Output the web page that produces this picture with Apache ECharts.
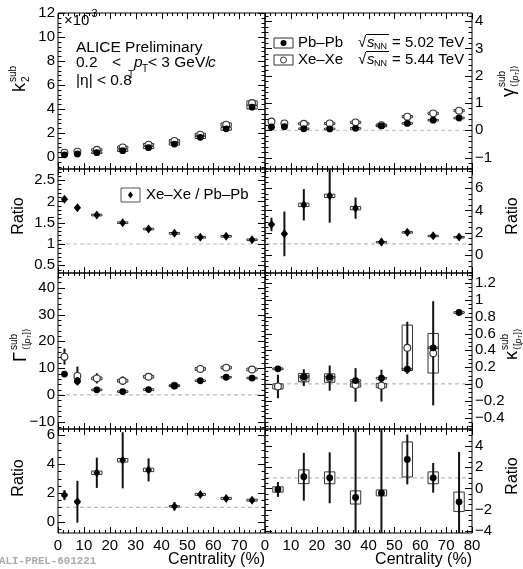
<!DOCTYPE html>
<html><head><meta charset="utf-8">
<script src="https://cdn.jsdelivr.net/npm/echarts@6/dist/echarts.min.js"></script>
<style>html,body{margin:0;padding:0;background:#fff}#c{width:523px;height:569px}</style>
</head><body><div id="c"></div>
<script>
// ================= DATA =================
const centralityA = [2.5, 7.5, 15, 25, 35, 45, 55, 65, 75];
const centralityB = [5, 15, 25, 35, 45, 55, 65, 75];

// k2^sub (x 10^-3)
const k2PbPb      = [0.18, 0.25, 0.36, 0.53, 0.78, 1.08, 1.64, 2.35, 4.15];
const k2PbPbStat  = [0.03, 0.03, 0.03, 0.04, 0.05, 0.05, 0.06, 0.08, 0.12];
const k2PbPbSys   = [0.05, 0.05, 0.06, 0.07, 0.08, 0.09, 0.10, 0.12, 0.15];
const k2XeXe      = [0.36, 0.45, 0.60, 0.80, 1.03, 1.34, 1.86, 2.70, 4.50];
const k2XeXeStat  = [0.05, 0.05, 0.05, 0.06, 0.06, 0.07, 0.08, 0.10, 0.15];
const k2XeXeSys   = [0.06, 0.07, 0.08, 0.10, 0.10, 0.11, 0.12, 0.14, 0.18];
const k2Ratio     = [2.05, 1.85, 1.68, 1.50, 1.35, 1.25, 1.16, 1.18, 1.10];
const k2RatioStat = [0.03, 0.03, 0.03, 0.03, 0.03, 0.03, 0.03, 0.03, 0.04];
const k2RatioSys  = [0.02, 0.02, 0.02, 0.02, 0.02, 0.02, 0.02, 0.02, 0.02];

// gamma^sub_<[pT]>
const gPbPb      = [0.12, 0.13, 0.055, 0.05, 0.07, 0.16, 0.25, 0.37, 0.45];
const gPbPbStat  = [0.03, 0.04, 0.04, 0.04, 0.04, 0.03, 0.03, 0.03, 0.03];
const gPbPbSys   = [0.03, 0.03, 0.03, 0.03, 0.03, 0.03, 0.03, 0.03, 0.03];
const gXeXe      = [0.32, 0.25, 0.24, 0.25, 0.29, 0.19, 0.50, 0.62, 0.72];
const gXeXeStat  = [0.05, 0.06, 0.06, 0.06, 0.06, 0.05, 0.06, 0.06, 0.06];
const gXeXeSys   = [0.04, 0.04, 0.04, 0.04, 0.04, 0.04, 0.04, 0.04, 0.04];
const gRatio     = [2.74, 1.90, 4.50, 5.30, 4.20, 1.17, 2.05, 1.72, 1.62];
const gRatioStat = [0.60, 2.00, 1.40, 2.40, 0.95, 0.30, 0.15, 0.15, 0.20];
const gRatioSys  = [0.10, 0.10, 0.15, 0.15, 0.15, 0.05, 0.05, 0.05, 0.05];

// Gamma^sub_<[pT]>
const GPbPb      = [7.8, 5.2, 1.9, 1.25, 2.0, 3.4, 5.3, 6.6, 6.3];
const GPbPbStat  = [0.6, 1.5, 0.5, 0.5, 0.5, 0.5, 0.4, 0.4, 0.5];
const GPbPbSys   = [0.3, 0.3, 0.3, 0.3, 0.3, 0.3, 0.3, 0.3, 0.3];
const GXeXe      = [14.3, 7.1, 6.2, 5.3, 6.8, 3.5, 9.7, 10.2, 9.5];
const GXeXeStat  = [3.0, 3.5, 1.9, 1.6, 1.0, 0.6, 1.0, 1.0, 1.2];
const GXeXeSys   = [0.5, 0.5, 0.5, 0.5, 0.5, 0.3, 0.5, 0.5, 0.5];
const GRatio     = [1.85, 1.39, 3.40, 4.27, 3.60, 1.07, 1.90, 1.62, 1.50];
const GRatioStat = [0.35, 1.45, 1.05, 1.95, 0.80, 0.30, 0.12, 0.15, 0.20];
const GRatioSys  = [0.10, 0.10, 0.12, 0.12, 0.12, 0.05, 0.07, 0.07, 0.07];

// kappa^sub_<[pT]>
const kPbPb      = [0.18, 0.087, 0.08, 0.04, 0.068, 0.175, 0.43, 0.85];
const kPbPbStat  = [0.015, 0.02, 0.02, 0.02, 0.02, 0.03, 0.03, 0.03];
const kPbPbSys   = [0.01, 0.01, 0.01, 0.01, 0.01, 0.01, 0.01, 0.01];
const kXeXe      = [-0.03, 0.075, 0.07, -0.012, -0.02, 0.43, 0.365, null];
const kXeXeStat  = [0.14, 0.10, 0.15, 0.20, 0.19, 0.31, 0.62, null];
const kXeXeSys   = [0.03, 0.05, 0.05, 0.025, 0.025, 0.27, 0.235, null];
const kRatio     = [-0.10, 1.10, 1.00, -0.85, -0.42, 2.73, 1.00, -1.26];
const kRatioStat = [0.70, 2.25, 2.40, 8.0, 9.0, 2.35, 1.40, 4.70];
const kRatioSys  = [0.25, 0.65, 0.56, 0.62, 0.28, 1.65, 0.56, 0.92];

// tick labels
const xTicksLeft  = [0, 10, 20, 30, 40, 50, 60, 70];
const xTicksRight = [0, 10, 20, 30, 40, 50, 60, 70, 80];
const yTicksK2     = [0, 2, 4, 6, 8, 10, 12];
const yTicksGamma  = [-1, 0, 1, 2, 3, 4];
const yTicksK2R    = [0.5, 1, 1.5, 2, 2.5];
const yTicksGammaR = [0, 2, 4, 6];
const yTicksBigG   = [-10, 0, 10, 20, 30, 40];
const yTicksKappa  = [-0.4, -0.2, 0, 0.2, 0.4, 0.6, 0.8, 1, 1.2];
const yTicksBigGR  = [0, 2, 4, 6];
const yTicksKappaR = [-4, -2, 0, 2, 4];

// ================= LAYOUT =================
const FONT = '"Liberation Sans", Arial, Helvetica, sans-serif';
const L0 = 58, L1 = 265, R1 = 472;
const panels = [
  {rect: [L0, 13, L1 - L0, 156],  y: [-1, 12],        major: yTicksK2,     minor: 0.4,  side: 'left',  ref: null},
  {rect: [L1, 13, R1 - L1, 156],  y: [-1.42, 4.3],    major: yTicksGamma,  minor: 0.2,  side: 'right', ref: 0},
  {rect: [L0, 169, L1 - L0, 104], y: [0.32, 2.76],    major: yTicksK2R,    minor: 0.1,  side: 'left',  ref: 1},
  {rect: [L1, 169, R1 - L1, 104], y: [-1.6, 7.7],     major: yTicksGammaR, minor: 0.5,  side: 'right', ref: 1},
  {rect: [L0, 273, L1 - L0, 156], y: [-12.7, 45.5],   major: yTicksBigG,   minor: 2,    side: 'left',  ref: 0},
  {rect: [L1, 273, R1 - L1, 156], y: [-0.536, 1.32],  major: yTicksKappa,  minor: 0.05, side: 'right', ref: 0},
  {rect: [L0, 429, L1 - L0, 104], y: [-0.78, 6.44],   major: yTicksBigGR,  minor: 0.5,  side: 'left',  ref: 1, xlab: xTicksLeft},
  {rect: [L1, 429, R1 - L1, 104], y: [-4.2, 5.6],     major: yTicksKappaR, minor: 0.5,  side: 'right', ref: 1, xlab: xTicksRight}
];

function minorVals(min, max, step, major) {
  const out = [];
  const k0 = Math.ceil(min / step - 1e-9), k1 = Math.floor(max / step + 1e-9);
  for (let k = k0; k <= k1; k++) {
    const v = Math.round(k * step * 1e6) / 1e6;
    if (!major.some(m => Math.abs(m - v) < 1e-9)) out.push(v);
  }
  return out;
}
function fmt(v) {
  const s = String(Math.round(v * 1e6) / 1e6);
  return v < 0 ? '\u2212' + s.slice(1) : s;
}

const grids = [], xAxes = [], yAxes = [];
const xMinor = minorVals(0, 80, 2, xTicksRight);
panels.forEach((p, gi) => {
  grids.push({left: p.rect[0], top: p.rect[1], width: p.rect[2], height: p.rect[3],
    show: true, borderColor: '#000', borderWidth: 1, backgroundColor: 'transparent', containLabel: false});
  xAxes.push({
    type: 'value', gridIndex: gi, position: 'bottom', min: 0, max: 80,
    axisLine: {show: false}, splitLine: {show: false}, axisTick: {show: false},
    axisLabel: p.xlab ? {show: true, customValues: p.xlab, margin: 5, color: '#000', fontSize: 15, fontFamily: FONT, formatter: fmt}
                      : {show: false}
  });
  ['left', 'right'].forEach(pos => {
    yAxes.push({
      type: 'value', gridIndex: gi, position: pos, min: p.y[0], max: p.y[1],
      axisLine: {show: false}, splitLine: {show: false}, axisTick: {show: false},
      axisLabel: p.side === pos ? {show: true, customValues: p.major, margin: 3, color: '#000', fontSize: 15, fontFamily: FONT, formatter: fmt}
                                : {show: false}
    });
  });
});

// ================= SERIES =================
function tickSeries(gi) {
  const p = panels[gi];
  const yMinor = minorVals(p.y[0], p.y[1], p.minor, p.major);
  return {type: 'custom', xAxisIndex: gi, yAxisIndex: 2 * gi, z: 10, clip: false, silent: true,
    data: [[0, p.y[0]]], encode: {x: 0, y: 1},
    renderItem(params, api) {
      const ch = [];
      const ln = (x1, y1, x2, y2) => ch.push({type: 'line', shape: {x1, y1, x2, y2}, style: {stroke: '#000', lineWidth: 1}});
      const c0 = api.coord([0, p.y[0]]), c1 = api.coord([80, p.y[1]]);
      const xl = c0[0], xr = c1[0], yb = c0[1], yt = c1[1];
      const xt = (v, len) => { const X = Math.round(api.coord([v, p.y[0]])[0]) + 0.5; ln(X, yb, X, yb - len); ln(X, yt, X, yt + len); };
      const yt_ = (v, len) => { const Y = Math.round(api.coord([0, v])[1]) + 0.5; ln(xl, Y, xl + len, Y); ln(xr, Y, xr - len, Y); };
      xTicksRight.forEach(v => xt(v, 6));
      xMinor.forEach(v => xt(v, 3));
      p.major.forEach(v => yt_(v, 7));
      yMinor.forEach(v => yt_(v, 3.5));
      return {type: 'group', children: ch};
    }};
}
function marker(kind, cx, cy) {
  if (kind === 'filled') return {type: 'circle', shape: {cx, cy, r: 3.4}, style: {fill: '#000'}};
  if (kind === 'open') return {type: 'circle', shape: {cx, cy, r: 3.4}, style: {fill: '#fff', stroke: '#333', lineWidth: 1.1}};
  return {type: 'polygon', shape: {points: [[cx, cy - 4.5], [cx + 3.4, cy], [cx, cy + 4.5], [cx - 3.4, cy]]}, style: {fill: '#000'}};
}
function errSeries(name, gi, xs, ys, stat, sys, kind) {
  const data = [];
  xs.forEach((x, i) => { if (ys[i] != null) data.push([x, ys[i], stat[i], sys[i]]); });
  return {
    name, type: 'custom', xAxisIndex: gi, yAxisIndex: 2 * gi, clip: true, z: 5,
    data, encode: {x: 0, y: 1},
    renderItem(params, api) {
      const x = api.value(0), y = api.value(1), s = api.value(2), sy = api.value(3);
      const hw = x < 10 && xs.length === 9 ? 1 : 2;
      const p = api.coord([x, y]);
      const lo = api.coord([x, y - s]), hi = api.coord([x, y + s]);
      const b1 = api.coord([x - hw, y + sy]), b2 = api.coord([x + hw, y - sy]);
      return {type: 'group', children: [
        {type: 'rect', shape: {x: b1[0], y: b1[1], width: b2[0] - b1[0], height: Math.max(b2[1] - b1[1], 1.5)},
         style: {fill: 'none', stroke: '#333', lineWidth: 1}},
        {type: 'line', shape: {x1: p[0], y1: hi[1], x2: p[0], y2: lo[1]}, style: {stroke: '#111', lineWidth: 2}},
        marker(kind, p[0], p[1])
      ]};
    }
  };
}
function refSeries(gi, ref) {
  return {type: 'custom', xAxisIndex: gi, yAxisIndex: 2 * gi, z: 1, silent: true, data: [[0, ref]], encode: {x: 0, y: 1},
    renderItem(params, api) {
      const a = api.coord([0, ref]), b = api.coord([80, ref]);
      return {type: 'line', shape: {x1: a[0] + 1, y1: a[1], x2: b[0] - 1, y2: b[1]},
        style: {stroke: '#bbb', lineWidth: 1.2, lineDash: [4, 3]}};
    }};
}

const series = [];
panels.forEach((p, gi) => {
  series.push(tickSeries(gi));
  if (p.ref != null) series.push(refSeries(gi, p.ref));
});
series.push(errSeries('k2 Xe', 0, centralityA, k2XeXe, k2XeXeStat, k2XeXeSys, 'open'));
series.push(errSeries('k2 Pb', 0, centralityA, k2PbPb, k2PbPbStat, k2PbPbSys, 'filled'));
series.push(errSeries('g Xe', 1, centralityA, gXeXe, gXeXeStat, gXeXeSys, 'open'));
series.push(errSeries('g Pb', 1, centralityA, gPbPb, gPbPbStat, gPbPbSys, 'filled'));
series.push(errSeries('k2 ratio', 2, centralityA, k2Ratio, k2RatioStat, k2RatioSys, 'diamond'));
series.push(errSeries('g ratio', 3, centralityA, gRatio, gRatioStat, gRatioSys, 'diamond'));
series.push(errSeries('G Xe', 4, centralityA, GXeXe, GXeXeStat, GXeXeSys, 'open'));
series.push(errSeries('G Pb', 4, centralityA, GPbPb, GPbPbStat, GPbPbSys, 'filled'));
series.push(errSeries('kap Xe', 5, centralityB, kXeXe, kXeXeStat, kXeXeSys, 'open'));
series.push(errSeries('kap Pb', 5, centralityB, kPbPb, kPbPbStat, kPbPbSys, 'filled'));
series.push(errSeries('G ratio', 6, centralityA, GRatio, GRatioStat, GRatioSys, 'diamond'));
series.push(errSeries('kap ratio', 7, centralityB, kRatio, kRatioStat, kRatioSys, 'filled'));

// ================= TEXT =================
function T(text, x, y, size, opts) {
  return Object.assign({type: 'text', x, y, z: 20, style: Object.assign({text, fill: '#000',
    font: (opts && opts.italic ? 'italic ' : '') + size + 'px ' + FONT,
    textAlign: 'left', textVerticalAlign: 'middle'}, opts && opts.style)}, opts && opts.el);
}
function vTitle(x, y, main, mainW, sup, sub, italicSubP) {
  const ch = [T(main, 0, 0, 18)];
  if (sup) ch.push(T(sup, mainW + 1, -7, 10));
  if (sub) {
    if (italicSubP) {
      ch.push(T('\u27E8[', mainW + 1, 6, 9));
      ch.push(T('p', mainW + 7.5, 6, 9, {italic: true}));
      ch.push(T('T', mainW + 12.5, 8, 6));
      ch.push(T(']\u27E9', mainW + 16.5, 6, 9));
    } else ch.push(T(sub, mainW + 1, 6, 10));
  }
  return {type: 'group', x, y, rotation: Math.PI / 2, children: ch};
}
function vText(text, x, y) {
  return {type: 'text', x, y, rotation: Math.PI / 2, z: 20,
    style: {text, fill: '#000', font: '16px ' + FONT, textAlign: 'center', textVerticalAlign: 'middle'}};
}

const graphic = [
  // top-left annotations
  T('\u00D710', 64, 21, 15),
  T('\u22123', 85, 14, 11),
  T('ALICE Preliminary', 76, 48, 15.5),
  T('0.2', 76, 63, 15.5),
  T('<', 112, 63, 15.5),
  T('p', 134, 63, 15.5, {italic: true}),
  T('T', 142, 69, 10),
  T('< 3 GeV/', 148, 63, 15.5),
  T('c', 208, 63, 15.5, {italic: true}),
  T('|\u03B7| < 0.8', 76, 81, 15.5),
  T('T', 128, 75, 10),
  // legend top-right
  {type: 'rect', shape: {x: 274, y: 38, width: 19, height: 10}, style: {fill: '#fff', stroke: '#333', lineWidth: 1}, z: 20},
  {type: 'circle', shape: {cx: 283.5, cy: 43, r: 3}, style: {fill: '#000'}, z: 21},
  {type: 'rect', shape: {x: 274, y: 55, width: 19, height: 10}, style: {fill: '#fff', stroke: '#333', lineWidth: 1}, z: 20},
  {type: 'circle', shape: {cx: 283.5, cy: 60, r: 3}, style: {fill: '#fff', stroke: '#333', lineWidth: 1}, z: 21},
  T('Pb\u2013Pb', 298, 43, 15),
  T('Xe\u2013Xe', 298, 60, 15),
  T('\u221A', 358, 43, 15), T('s', 367, 43, 15, {italic: true}), T('NN', 374, 47, 9), T('= 5.02 TeV', 392, 43, 15),
  T('\u221A', 358, 60, 15), T('s', 367, 60, 15, {italic: true}), T('NN', 374, 64, 9), T('= 5.44 TeV', 392, 60, 15),
  {type: 'line', shape: {x1: 366, y1: 34.5, x2: 389, y2: 34.5}, style: {stroke: '#000', lineWidth: 1}, z: 20},
  {type: 'line', shape: {x1: 366, y1: 51.5, x2: 389, y2: 51.5}, style: {stroke: '#000', lineWidth: 1}, z: 20},
  // ratio legend
  {type: 'rect', shape: {x: 121, y: 188, width: 19, height: 14}, style: {fill: '#fff', stroke: '#555', lineWidth: 1}, z: 20},
  {type: 'polygon', shape: {points: [[130.5, 191.5], [133, 195], [130.5, 198.5], [128, 195]]}, style: {fill: '#000'}, z: 21},
  T('Xe\u2013Xe / Pb\u2013Pb', 146, 195, 15),
  // axis titles
  vTitle(20, 92, 'k', 9, 'sub', '2', false),
  vText('Ratio', 19, 216),
  vTitle(21, 362, '\u0393', 11, 'sub', 'x', true),
  vText('Ratio', 19, 478),
  vTitle(509, 97, '\u03B3', 9, 'sub', 'x', true),
  vText('Ratio', 513, 216),
  vTitle(512, 360, '\u03BA', 9, 'sub', 'x', true),
  vText('Ratio', 513, 476),
  // x titles
  {type: 'text', x: 265, y: 560, z: 20, style: {text: 'Centrality (%)', fill: '#000', font: '16px ' + FONT, textAlign: 'right', textVerticalAlign: 'middle'}},
  {type: 'text', x: 472, y: 560, z: 20, style: {text: 'Centrality (%)', fill: '#000', font: '16px ' + FONT, textAlign: 'right', textVerticalAlign: 'middle'}},
  {type: 'text', x: -1, y: 561, z: 20, style: {text: 'ALI-PREL-601221', fill: '#aaa', font: 'bold 10.8px "Liberation Mono", "DejaVu Sans Mono", monospace', textAlign: 'left', textVerticalAlign: 'middle'}}
];

const chart = echarts.init(document.getElementById('c'), null, {renderer: 'canvas'});
chart.setOption({
  animation: false,
  backgroundColor: '#fff',
  grid: grids, xAxis: xAxes, yAxis: yAxes, series, graphic
});
</script></body></html>
